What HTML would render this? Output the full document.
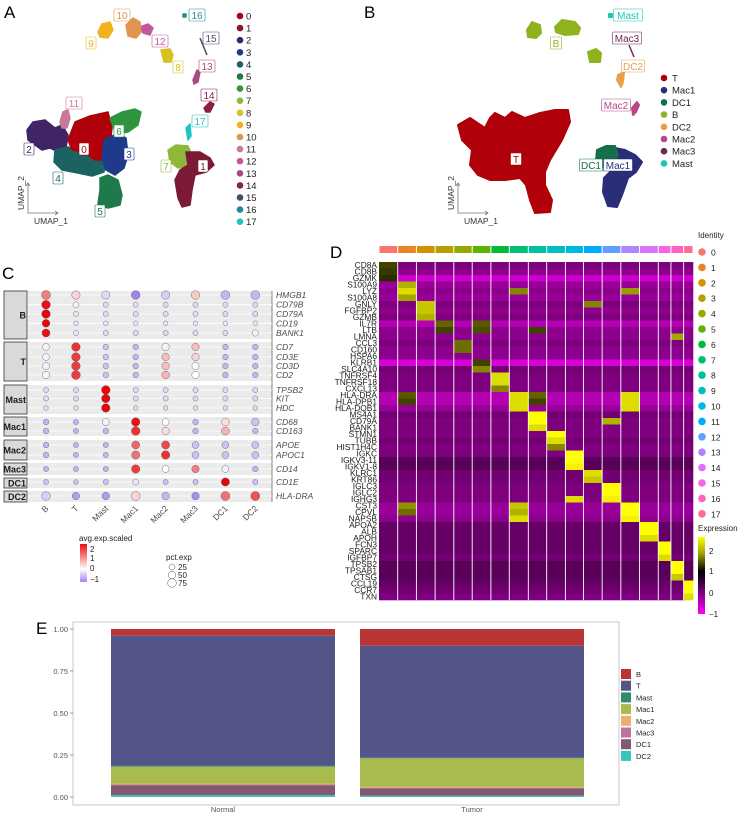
<!DOCTYPE html>
<html><head><meta charset="utf-8">
<style>
html,body{margin:0;padding:0;background:#fff;}
svg{display:block;font-family:"Liberation Sans",Arial,sans-serif;}
</style></head>
<body>
<svg id="fig" width="739" height="814" viewBox="0 0 739 814" xmlns="http://www.w3.org/2000/svg">
<g id="gA"></g>
<g id="gB"></g>
<g id="gC"></g>
<g id="gD"></g>
<g id="gE"></g>
</svg>
<script>
// ---------- data ----------
const clusterIds = ["0","1","2","3","4","5","6","7","8","9","10","11","12","13","14","15","16","17"];
const clusterColors = ["#b0000a","#7a1a35","#3f2466","#1f3a8a","#1b6363","#1e7a4a","#2e9440","#8fb83a","#d6c21c","#f2b21f","#e0954e","#c9789a","#c2589b","#a84a7e","#8a1f4a","#4a4a6a","#2a8a8a","#1cc6c6"];
const cellTypes = ["T","Mac1","DC1","B","DC2","Mac2","Mac3","Mast"];
const cellTypeColors = ["#b0000a","#2a2e78","#137049","#8fb31f","#e8a04a","#b8468a","#6a2a50","#1cc6b6"];

const dotGenes = ["HMGB1","CD79B","CD79A","CD19","BANK1","CD7","CD3E","CD3D","CD2","TPSB2","KIT","HDC","CD68","CD163","APOE","APOC1","CD14","CD1E","HLA-DRA"];
const dotGroups = ["B","T","Mast","Mac1","Mac2","Mac3","DC1","DC2"];
const dotAvg = [
 [1.2,0.4,-0.3,-1,-0.4,0.5,-0.6,-0.6],
 [2.2,-0.1,-0.3,-0.3,-0.3,-0.3,-0.3,-0.3],
 [2.3,-0.2,-0.3,-0.3,-0.3,-0.3,-0.3,-0.3],
 [2.3,-0.2,-0.2,-0.2,-0.2,-0.2,-0.2,-0.2],
 [2.2,-0.2,-0.3,-0.3,-0.3,-0.3,-0.3,-0.1],
 [-0.1,1.9,-0.5,-0.6,-0.1,0.6,-0.6,-0.6],
 [-0.1,1.8,-0.5,-0.6,0.6,0.4,-0.6,-0.6],
 [-0.1,1.8,-0.5,-0.6,0.6,0,-0.6,-0.6],
 [-0.1,1.8,-0.5,-0.6,0.7,0,-0.6,-0.6],
 [-0.3,-0.3,2.4,-0.3,-0.3,-0.3,-0.3,-0.3],
 [-0.3,-0.3,2.4,-0.3,-0.3,-0.3,-0.3,-0.3],
 [-0.3,-0.3,2.4,-0.3,-0.3,-0.3,-0.3,-0.3],
 [-0.6,-0.6,-0.1,2.2,0,-0.6,0.3,-0.5],
 [-0.6,-0.6,-0.6,1.9,0.3,-0.6,0.7,-0.6],
 [-0.6,-0.6,-0.6,1.4,1.7,-0.5,-0.5,-0.5],
 [-0.6,-0.6,-0.6,1.3,1.9,-0.5,-0.5,-0.5],
 [-0.6,-0.6,-0.6,1.8,0,1.2,-0.1,-0.6],
 [-0.5,-0.5,-0.5,-0.2,-0.5,-0.5,2.4,-0.5],
 [-0.4,-0.8,-0.8,0.4,-0.6,-0.9,1.3,1.6]
];
const dotPct = [
 [85,70,65,75,70,75,80,80],
 [75,25,15,15,15,15,15,15],
 [75,15,15,15,15,15,15,15],
 [55,10,10,10,10,10,10,10],
 [60,15,15,15,15,15,15,30],
 [40,75,20,20,50,50,20,20],
 [40,75,20,20,50,50,20,20],
 [40,75,20,20,50,45,20,20],
 [50,80,20,20,55,50,20,20],
 [15,15,75,15,15,15,15,15],
 [15,15,70,15,15,15,15,15],
 [10,10,70,10,10,10,10,10],
 [20,15,40,70,40,20,55,55],
 [20,15,20,75,50,20,60,20],
 [20,15,15,60,65,40,40,40],
 [20,15,15,65,70,40,40,40],
 [15,15,15,70,40,50,40,20],
 [15,10,15,25,15,15,65,15],
 [75,50,50,85,50,50,85,85]
];
const dotBlocks = [["B",0,4],["T",5,8],["Mast",9,11],["Mac1",12,13],["Mac2",14,15],["Mac3",16,16],["DC1",17,17],["DC2",18,18]];

const heatGenes = ["CD8A","CD8B","GZMK","S100A9","LYZ","S100A8","GNLY","FGFBP2","GZMB","IL7R","LTB","LMNA","CCL3","CD160","HSPA6","KLRB1","SLC4A10","TNFRSF4","TNFRSF18","CXCL13","HLA-DRA","HLA-DPB1","HLA-DQB1","MS4A1","CD79A","BANK1","STMN1","TUBB","HIST1H4C","IGKC","IGKV3-11","IGKV1-8","KLRC1","KRT86","IGLC3","IGLC2","IGHG3","CST3","CPVL","NAPSB","APOA2","ALB","APOH","FCN3","SPARC","IGFBP7","TPSB2","TPSAB1","CTSG","CCL19","CCR7","TXN"];
const heatClusterSizes = [56,56,56,56,55,56,55,57,55,56,54,56,56,56,56,38,38,28];
const heatIdentityColors = ["#f8766d","#e88526","#d39200","#b79f00","#93aa00","#5eb300","#00ba38","#00bf74","#00c19f","#00bfc4","#00b9e3","#00adfa","#619cff","#ae87ff","#db72fb","#f564e3","#ff61c3","#ff6c91"];
// per-gene baseline expression (outside marker clusters)
const heatRowBase = [-0.5,-0.55,-0.8,-0.6,-0.55,-0.6,-0.5,-0.55,-0.5,-0.7,-0.55,-0.55,-0.5,-0.55,-0.55,-0.85,-0.45,-0.5,-0.5,-0.5,-0.7,-0.7,-0.6,-0.45,-0.5,-0.5,-0.5,-0.45,-0.5,-0.5,-0.35,-0.35,-0.45,-0.45,-0.5,-0.5,-0.5,-0.6,-0.6,-0.55,-0.4,-0.4,-0.4,-0.4,-0.4,-0.45,-0.35,-0.35,-0.35,-0.4,-0.45,-0.5];
// [geneIndex, clusterIndex, value]
const heatHigh = [
 [0,0,0.6],[1,0,0.5],[2,0,0.4],[3,1,1.6],[4,1,2],[5,1,1.5],[6,2,1.8],[7,2,1.8],[8,2,1.6],
 [9,3,0.9],[10,3,0.6],[9,5,0.8],[10,5,0.7],[12,4,1.0],[13,4,1.0],[15,5,0.6],[16,5,1.2],
 [17,6,2],[18,6,2],[19,6,1.2],[20,7,2],[21,7,2],[22,7,2],[20,8,0.9],[21,8,0.6],[20,1,0.8],[21,1,0.6],
 [23,8,2.3],[24,8,2.3],[25,8,2],[26,9,2.3],[27,9,2],[28,9,1.2],[29,10,2.3],[30,10,2.3],[31,10,2.2],
 [36,10,2],[32,11,2],[33,11,1.8],[6,11,1.2],[34,12,2.3],[35,12,2.3],[36,12,2.2],[24,12,1.6],
 [37,13,2.3],[38,13,2.3],[39,13,2.2],[20,13,2],[21,13,2],[22,13,2],[4,13,1.4],
 [37,7,1.8],[38,7,1.6],[39,7,2],[37,1,1.3],[38,1,1],[4,7,1.2],[10,8,0.6],
 [40,14,2.3],[41,14,2.3],[42,14,2],[43,15,2.3],[44,15,2.3],[45,15,2],[46,16,2.4],[47,16,2.4],[48,16,1.8],
 [49,17,2.3],[50,17,2.3],[51,17,2],[11,16,1.5]
];

const barGroups = ["Normal","Tumor"];
const barTypes = ["B","T","Mast","Mac1","Mac2","Mac3","DC1","DC2"];
const barColors = ["#b93535","#535487","#318a6c","#a8bb4c","#e7b06e","#c0729a","#835872","#36c5bb"];
const barNormal = [0.04,0.775,0.005,0.10,0.005,0.005,0.06,0.01];
const barTumor = [0.10,0.667,0.003,0.17,0.005,0.003,0.045,0.007];
const barTicks = [0,0.25,0.5,0.75,1];
const barTickLabels = ["0.00","0.25","0.50","0.75","1.00"];

// ---------- helpers ----------
const NS="http://www.w3.org/2000/svg";
function mk(tag,attrs,parent){const e=document.createElementNS(NS,tag);for(const k in attrs)e.setAttribute(k,attrs[k]);parent.appendChild(e);return e;}
function txt(s,attrs,parent){const e=mk("text",attrs,parent);e.textContent=s;return e;}

// ---------- panel labels ----------
const fig=document.getElementById("fig");
[["A",4,18],["B",364,18],["C",2,279],["D",330,258],["E",36,634]].forEach(p=>{
 const t=txt(p[0],{x:p[1],y:p[2],"font-size":"17"},fig);
 
 
});

// ---------- UMAP A ----------
const gA=document.getElementById("gA");
const blobsA=[
 [2,"27,130 33,122 45,120 55,128 62,125 68,135 66,148 58,152 50,148 42,150 35,145 28,140"],
 [11,"60,122 63,112 68,110 70,118 67,128 62,128"],
 [4,"55,150 68,147 82,152 95,155 106,160 104,172 92,176 78,173 62,170 54,162"],
 [0,"68,140 75,122 90,116 108,112 112,128 110,145 104,160 95,160 84,152 72,150"],
 [6,"110,118 122,112 135,109 141,112 138,125 128,132 116,134"],
 [3,"104,140 116,134 126,138 128,155 124,168 115,175 106,170 102,158"],
 [5,"100,178 108,175 118,180 122,195 120,205 108,208 98,204 100,190"],
 [7,"168,150 176,145 188,146 192,155 188,166 178,168 170,162"],
 [1,"186,152 200,152 210,158 214,165 206,172 195,175 192,190 190,205 182,207 178,198 175,180 180,170 188,165"],
 [17,"186,128 190,124 191,136 188,140"],
 [14,"204,108 210,102 214,104 210,112 206,112"],
 [13,"193,80 197,70 200,72 198,82 194,84"],
 [8,"161,50 170,49 173,55 171,62 164,62"],
 [12,"140,27 148,24 153,28 150,35 143,33"],
 [10,"126,25 133,18 140,22 141,32 136,38 128,36"],
 [9,"98,32 102,24 110,22 113,30 108,38 100,37"],
 [16,"183,14 186,14 186,17 183,17"]
];
blobsA.forEach(b=>{
 const p=mk("polygon",{points:b[1],fill:clusterColors[b[0]],stroke:clusterColors[b[0]],"stroke-width":"1.5","stroke-linejoin":"round"},gA);
 
 
});
mk("line",{x1:200,y1:38,x2:207,y2:55,stroke:clusterColors[15],"stroke-width":"1.5"},gA);
const labA=[[0,84,149],[1,203,166],[2,29,149],[3,129,154],[4,58,178],[5,100,211],[6,119,131],[7,166,166],[8,178,67],[9,91,43],[10,122,15],[11,74,103],[12,160,41],[13,207,66],[14,209,95],[15,211,38],[16,197,15],[17,200,121]];
labA.forEach(l=>{
 const s=clusterIds[l[0]];const w=s.length*6+4;
 const r=mk("rect",{x:l[1]-w/2,y:l[2]-6,width:w,height:12,fill:"#fff",stroke:clusterColors[l[0]],"stroke-width":"0.6",rx:1},gA);
 
 
 const t=txt(s,{x:l[1],y:l[2]+4,"font-size":"10","text-anchor":"middle",fill:clusterColors[l[0]]},gA);
 
 
});
function axesArrows(g,x0,y0){
 mk("path",{d:`M${x0},${y0-30} L${x0},${y0} L${x0+30},${y0} M${x0-2},${y0-27} L${x0},${y0-30} L${x0+2},${y0-27} M${x0+27},${y0-2} L${x0+30},${y0} L${x0+27},${y0+2}`,stroke:"#777",fill:"none","stroke-width":"0.8"},g);
 txt("UMAP_1",{x:x0+6,y:y0+11,"font-size":"8.5",fill:"#333"},g);
 txt("UMAP_2",{x:x0-4,y:y0-3,"font-size":"8.5",fill:"#333",transform:`rotate(-90 ${x0-4} ${y0-3})`},g);
}
axesArrows(gA,28,213);
clusterIds.forEach((c,i)=>{
 const y=16+i*12.1;
 const d=mk("circle",{cx:240,cy:y,r:3.3,fill:clusterColors[i]},gA);
 
 
 const t=txt(c,{x:246,y:y+3.5,"font-size":"9.5",fill:"#222"},gA);
 
 
});

// ---------- UMAP B ----------
const gB=document.getElementById("gB");
const blobsB=[
 [0,"458,125 470,118 485,128 490,118 495,113 505,118 512,112 525,118 540,113 555,110 568,110 570,122 562,140 550,160 545,172 545,185 552,200 550,212 535,213 530,200 526,185 520,178 505,180 490,180 478,175 470,165 472,150 462,140"],
 [1,"615,148 625,150 635,155 642,162 636,172 628,178 622,195 617,207 608,206 603,192 604,178 612,170 612,158"],
 [2,"597,150 606,146 615,146 618,155 612,165 603,167 596,160"],
 [3,"527,30 532,22 540,25 541,33 536,38 528,37"],
 [3,"555,27 562,20 575,22 580,28 578,34 565,35 556,32"],
 [3,"588,52 596,49 601,53 600,62 590,62"],
 [4,"618,75 624,72 623,82 621,87 617,80"],
 [5,"632,108 637,102 639,105 636,112 633,115"],
 [7,"609,14 612,14 612,17 609,17"]
];
blobsB.forEach(b=>{
 const p=mk("polygon",{points:b[1],fill:cellTypeColors[b[0]],stroke:cellTypeColors[b[0]],"stroke-width":"2","stroke-linejoin":"round"},gB);
 
 
});
mk("line",{x1:629,y1:45,x2:634,y2:57,stroke:cellTypeColors[6],"stroke-width":"1.5"},gB);
const labB=[[0,516,159],[1,618,165],[2,591,165],[3,556,43],[4,633,66],[5,616,105],[6,627,38],[7,628,15]];
labB.forEach(l=>{
 const s=cellTypes[l[0]];const w=s.length*6+5;
 mk("rect",{x:l[1]-w/2,y:l[2]-6,width:w,height:12,fill:"#fff",stroke:cellTypeColors[l[0]],"stroke-width":"0.6",rx:1},gB);
 const t=txt(s,{x:l[1],y:l[2]+4,"font-size":"10","text-anchor":"middle",fill:cellTypeColors[l[0]]},gB);
 
 
});
axesArrows(gB,458,213);
cellTypes.forEach((c,i)=>{
 const y=78+i*12.2;
 mk("circle",{cx:664,cy:y,r:3.3,fill:cellTypeColors[i]},gB);
 const t=txt(c,{x:672,y:y+3.5,"font-size":"9.5",fill:"#222"},gB);
 
 
});

// ---------- Dot plot C ----------
const gC=document.getElementById("gC");
const rowY=[295,304.7,314,323.3,333,347,357,366,375,390,398.5,408,422,431,445,455,469,482,496];
const blockY=[[291,339],[342,381],[385,414],[417,436],[440,460],[463,475],[478,488],[491,502]];
const cx=i=>46+i*29.9;
function avgColor(v){
 const c=Math.max(-1,Math.min(2.4,v));
 let r,g,b;
 if(c>=0){const t=c/2.3;r=255+(232-255)*Math.min(1,t);g=255+(5-255)*Math.min(1,t);b=255+(10-255)*Math.min(1,t);}
 else{const t=-c;r=255+(160-255)*t;g=255+(130-255)*t;b=255+(240-255)*t;}
 return `rgb(${r|0},${g|0},${b|0})`;
}
const rad=p=>1.2+Math.sqrt(p/100)*3.6;
dotBlocks.forEach((bl,bi)=>{
 const [y0,y1]=blockY[bi];
 mk("rect",{x:28,y:y0,width:244,height:y1-y0,fill:"#ebebeb"},gC);
 const s=mk("rect",{x:4,y:y0,width:23,height:y1-y0,fill:"#d9d9d9",stroke:"#333","stroke-width":"0.8"},gC);
 
 
 txt(bl[0],{x:26,y:(y0+y1)/2+3.5,"font-size":"9","font-weight":"bold","text-anchor":"end",fill:"#1a1a1a"},gC);
});
mk("line",{x1:272,y1:291,x2:272,y2:502,stroke:"#333","stroke-width":"0.6"},gC);
dotGenes.forEach((gname,r)=>{
 const y=rowY[r];
 mk("line",{x1:28,y1:y,x2:272,y2:y,stroke:"#fff","stroke-width":"0.8"},gC);
 const t=txt(gname,{x:276,y:y+3,"font-size":"8.5","font-style":"italic",fill:"#4d4d4d"},gC);
 
 
 dotGroups.forEach((g,c)=>{
  const d=mk("circle",{cx:cx(c),cy:y,r:rad(dotPct[r][c]),fill:avgColor(dotAvg[r][c]),stroke:"#555","stroke-width":"0.4"},gC);
  
  
 });
});
dotGroups.forEach((g,c)=>{
 const x=cx(c),y=507;
 const t=txt(g,{x:x+3,y:y+2,"font-size":"8.5",fill:"#4d4d4d","text-anchor":"end",transform:`rotate(-45 ${x+3} ${y+2})`},gC);
 
 
});
txt("avg.exp.scaled",{x:79,y:541,"font-size":"8",fill:"#222"},gC);
const cg=mk("linearGradient",{id:"cgrad",x1:0,y1:0,x2:0,y2:1},gC);
[["0","#ee0a0a"],["0.66","#ffffff"],["1","#a783f5"]].forEach(s=>mk("stop",{offset:s[0],"stop-color":s[1]},cg));
mk("rect",{x:80,y:544,width:7,height:38,fill:"url(#cgrad)"},gC);
[["2",549],["1",558],["0",568],["\u22121",579]].forEach(l=>txt(l[0],{x:90,y:l[1]+3,"font-size":"8",fill:"#222"},gC));
txt("pct.exp",{x:166,y:560,"font-size":"8",fill:"#222"},gC);
[25,50,75].forEach((p,i)=>{
 const y=567+i*8;
 mk("circle",{cx:172,cy:y,r:rad(p),fill:"none",stroke:"#555","stroke-width":"0.5"},gC);
 txt(String(p),{x:178,y:y+3,"font-size":"8",fill:"#222"},gC);
});

// ---------- Heatmap D ----------
const gD=document.getElementById("gD");
const hx0=379,hx1=693,hy0=262,hy1=600;
const totalCells=heatClusterSizes.reduce((a,b)=>a+b,0);
const colX=[];let acc=0;
heatClusterSizes.forEach(s=>{colX.push(hx0+(hx1-hx0)*acc/totalCells);acc+=s;});colX.push(hx1);
const rowH=(hy1-hy0)/heatGenes.length;
function heatColor(v){
 const c=Math.max(-1,Math.min(2.5,v));
 if(c<=0){const t=-c;return `rgb(${(255*t)|0},0,${(255*t)|0})`;}
 const t=Math.min(1,c/2.3);return `rgb(${(255*t)|0},${(255*t)|0},0)`;
}
const heatVals=heatGenes.map((g,r)=>heatClusterSizes.map(()=>heatRowBase[r]));
heatHigh.forEach(h=>{heatVals[h[0]][h[1]]=h[2];});
heatGenes.forEach((g,r)=>{
 heatClusterSizes.forEach((s,c)=>{
  const cell=mk("rect",{x:colX[c],y:hy0+r*rowH,width:colX[c+1]-colX[c]+0.3,height:rowH+0.3,fill:heatColor(heatVals[r][c])},gD);
  
  
 });
 const t=txt(g,{x:hx0-2,y:hy0+r*rowH+rowH-0.5,"font-size":"8.4","text-anchor":"end",fill:"#1a1a1a"},gD);
 
 
});
heatClusterSizes.forEach((s,c)=>{
 if(c>0) mk("line",{x1:colX[c],y1:hy0,x2:colX[c],y2:hy1,stroke:"#fff","stroke-width":"0.9"},gD);
 const bar=mk("rect",{x:colX[c]+0.5,y:246,width:colX[c+1]-colX[c]-1,height:7,fill:heatIdentityColors[c]},gD);
 
 
});
txt("Identity",{x:698,y:238,"font-size":"8",fill:"#222"},gD);
clusterIds.forEach((c,i)=>{
 const y=252+i*15.4;
 mk("circle",{cx:702,cy:y,r:3.8,fill:heatIdentityColors[i]},gD);
 const t=txt(c,{x:711,y:y+3.5,"font-size":"8.5",fill:"#222"},gD);
 
 
});
txt("Expression",{x:698,y:531,"font-size":"8",fill:"#222"},gD);
const hg=mk("linearGradient",{id:"hgrad",x1:0,y1:0,x2:0,y2:1},gD);
[["0","#ffff00"],["0.2","#aaaa00"],["0.45","#000000"],["0.75","#880088"],["1","#ff00ff"]].forEach(s=>mk("stop",{offset:s[0],"stop-color":s[1]},hg));
mk("rect",{x:698,y:537,width:7,height:77,fill:"url(#hgrad)"},gD);
[["2",551],["1",571],["0",593],["\u22121",614]].forEach(l=>txt(l[0],{x:709,y:l[1]+3,"font-size":"8",fill:"#222"},gD));

// ---------- Stacked bar E ----------
const gE=document.getElementById("gE");
const ey=v=>797-168*v;
const ex=i=>[111,360][i];
const bw=224;
mk("rect",{x:73,y:622,width:546,height:183,fill:"#fff",stroke:"#bbb","stroke-width":"0.8"},gE);
barTicks.forEach((t,i)=>{
 mk("line",{x1:70,y1:ey(t),x2:73,y2:ey(t),stroke:"#555","stroke-width":"0.6"},gE);
 txt(barTickLabels[i],{x:68,y:ey(t)+3,"font-size":"7.5","text-anchor":"end",fill:"#555"},gE);
});
[barNormal,barTumor].forEach((vals,gi)=>{
 let top=1;
 vals.forEach((v,ti)=>{
  const r=mk("rect",{x:ex(gi),y:ey(top),width:bw,height:168*v,fill:barColors[ti]},gE);
  
  
  top-=v;
 });
 const t=txt(barGroups[gi],{x:ex(gi)+bw/2,y:812,"font-size":"7.5","text-anchor":"middle",fill:"#555"},gE);
 
 
});
barTypes.forEach((b,i)=>{
 const y=669+i*11.7;
 const s=mk("rect",{x:621,y:y,width:10,height:10,fill:barColors[i]},gE);
 
 
 txt(b,{x:636,y:y+8,"font-size":"7.5",fill:"#222"},gE);
});
</script>
</body></html>
